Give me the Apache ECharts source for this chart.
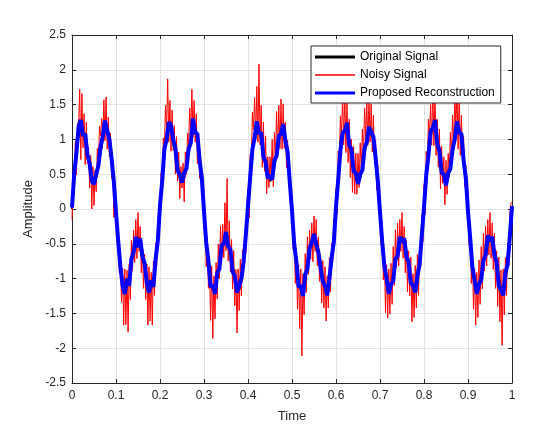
<!DOCTYPE html>
<html lang="en">
<head>
    <meta charset="utf-8">
    <title>signal reconstruction</title>
    <script src="https://cdn.jsdelivr.net/npm/echarts@6/dist/echarts.min.js"></script>
    <style>
        html, body { margin: 0; padding: 0; background: #fff; }
    </style>
</head>
<body>
    <div id="main" style="width: 544px;height:433px;"></div>
    <script>
    // sampled over t = 0 .. 1, evenly spaced
    var originalSignal = [
        0, 0.43, 0.79, 1.05, 1.16, 1.13, 0.99, 0.80, 0.60, 0.45, 0.40, 0.45, 0.60, 0.80, 0.99, 1.13, 1.16, 1.05, 0.79, 0.43,
        0, -0.43, -0.79, -1.05, -1.16, -1.13, -0.99, -0.80, -0.60, -0.45, -0.40, -0.45, -0.60, -0.80, -0.99, -1.13, -1.16, -1.05, -0.79, -0.43,
        0, 0.43, 0.79, 1.05, 1.16, 1.13, 0.99, 0.80, 0.60, 0.45, 0.40, 0.45, 0.60, 0.80, 0.99, 1.13, 1.16, 1.05, 0.79, 0.43,
        0, -0.43, -0.79, -1.05, -1.16, -1.13, -0.99, -0.80, -0.60, -0.45, -0.40, -0.45, -0.60, -0.80, -0.99, -1.13, -1.16, -1.05, -0.79, -0.43,
        0, 0.43, 0.79, 1.05, 1.16, 1.13, 0.99, 0.80, 0.60, 0.45, 0.40, 0.45, 0.60, 0.80, 0.99, 1.13, 1.16, 1.05, 0.79, 0.43,
        0, -0.43, -0.79, -1.05, -1.16, -1.13, -0.99, -0.80, -0.60, -0.45, -0.40, -0.45, -0.60, -0.80, -0.99, -1.13, -1.16, -1.05, -0.79, -0.43,
        0, 0.43, 0.79, 1.05, 1.16, 1.13, 0.99, 0.80, 0.60, 0.45, 0.40, 0.45, 0.60, 0.80, 0.99, 1.13, 1.16, 1.05, 0.79, 0.43,
        0, -0.43, -0.79, -1.05, -1.16, -1.13, -0.99, -0.80, -0.60, -0.45, -0.40, -0.45, -0.60, -0.80, -0.99, -1.13, -1.16, -1.05, -0.79, -0.43,
        0, 0.43, 0.79, 1.05, 1.16, 1.13, 0.99, 0.80, 0.60, 0.45, 0.40, 0.45, 0.60, 0.80, 0.99, 1.13, 1.16, 1.05, 0.79, 0.43,
        0, -0.43, -0.79, -1.05, -1.16, -1.13, -0.99, -0.80, -0.60, -0.45, -0.40, -0.45, -0.60, -0.80, -0.99, -1.13, -1.16, -1.05, -0.79, -0.43,
        0
    ];

    var noisySignal = [
        -0.15, 0.47, 0.33, 0.97, 0.49, 1.24, 1.20, 1.72, 0.71, 1.66, 0.88, 1.37, 0.64, 1.25, 0.65, 0.89, 0.30, 0.77, 0.00, 0.61, 0.05, 0.56, 0.25, 0.87, 0.65, 1.19, 1.05, 1.30, 1.04, 1.57, 0.98, 1.61, 0.86, 1.32, 0.75, 1.09, 0.44, 0.72, -0.12, 0.32,
        0.10, -0.47, -0.23, -0.92, -0.69, -1.34, -0.85, -1.67, -0.86, -1.66, -0.88, -1.77, -0.79, -1.30, -0.45, -0.89, -0.30, -0.77, -0.15, -0.71, -0.05, -0.61, -0.25, -0.92, -0.50, -1.14, -0.65, -1.30, -0.79, -1.67, -0.83, -1.61, -0.91, -1.67, -0.75, -1.24, -0.49, -0.82, -0.28, 0.03,
        -0.20, 0.52, 0.33, 1.02, 0.89, 1.49, 1.15, 1.87, 0.96, 1.56, 0.83, 1.42, 0.84, 1.20, 0.50, 1.04, 0.40, 0.82, 0.15, 0.61, 0.30, 0.66, 0.10, 0.82, 0.50, 1.09, 0.90, 1.45, 1.09, 1.72, 1.03, 1.56, 0.96, 1.37, 0.65, 1.04, 0.44, 0.72, 0.18, 0.42,
        -0.30, 0.03, -0.83, -0.42, -1.14, -0.84, -1.60, -0.82, -1.86, -0.96, -1.58, -0.77, -1.29, -0.50, -1.00, -0.24, -0.75, -0.22, -0.70, 0.09, -0.60, 0.44, -0.75, -0.17, -0.90, -0.44, -1.15, -0.60, -1.39, -0.87, -1.78, -0.86, -1.46, -0.72, -1.25, -0.59, -0.94, -0.32, -0.63, 0.08,
        0.30, -0.13, 0.78, 0.67, 1.39, 1.14, 1.60, 1.02, 1.76, 0.96, 2.08, 0.92, 1.49, 0.60, 1.25, 0.54, 1.05, 0.22, 0.75, 0.31, 0.75, 0.46, 1.00, 0.32, 1.10, 0.74, 1.40, 0.80, 1.49, 0.87, 1.58, 0.86, 1.51, 0.87, 1.25, 0.59, 0.99, 0.32, 0.58, -0.03,
        0.20, -0.57, -0.28, -1.07, -0.59, -1.44, -0.80, -1.72, -0.86, -2.11, -0.93, -1.52, -0.64, -1.20, -0.40, -0.94, -0.30, -0.72, -0.20, -0.76, -0.10, -0.61, -0.15, -0.82, -0.40, -1.04, -0.70, -1.35, -0.74, -1.42, -0.83, -1.61, -0.96, -1.42, -0.70, -1.19, -0.49, -0.77, -0.13, -0.42,
        0.30, -0.08, 0.83, 0.72, 1.34, 1.04, 1.65, 0.92, 1.71, 0.81, 1.53, 0.67, 1.29, 0.45, 1.00, 0.24, 0.90, 0.22, 0.80, 0.21, 0.80, 0.31, 0.95, 0.57, 1.15, 0.79, 1.45, 1.00, 1.54, 0.92, 1.63, 0.96, 1.51, 0.82, 1.35, 0.64, 0.99, 0.27, 0.63, -0.08,
        0.20, -0.52, -0.18, -1.02, -0.69, -1.49, -0.80, -1.57, -0.86, -1.51, -0.78, -1.37, -0.54, -1.10, -0.30, -0.84, -0.20, -0.82, -0.15, -0.61, -0.05, -0.71, -0.25, -0.92, -0.45, -1.19, -0.60, -1.25, -0.69, -1.62, -0.93, -1.56, -0.81, -1.42, -0.65, -1.24, -0.54, -0.82, -0.08, -0.47,
        0.35, -0.08, 0.83, 0.52, 1.29, 1.04, 1.50, 0.92, 1.76, 0.91, 1.68, 0.77, 1.29, 0.60, 1.15, 0.29, 0.90, 0.37, 0.75, 0.06, 0.70, 0.21, 0.80, 0.47, 1.10, 0.79, 1.35, 0.85, 1.64, 1.17, 1.73, 0.86, 1.66, 0.77, 1.35, 0.74, 1.04, 0.32, 0.63, -0.08,
        0.25, -0.52, -0.23, -1.07, -0.64, -1.44, -0.85, -1.67, -0.91, -1.56, -0.73, -1.37, -0.54, -1.15, -0.35, -0.89, -0.25, -0.82, -0.15, -0.66, -0.05, -0.71, -0.20, -0.87, -0.35, -1.14, -0.60, -1.40, -0.69, -1.62, -0.88, -1.96, -0.86, -1.52, -0.70, -1.24, -0.49, -0.82, -0.08, 0.08,
        0.10
    ];

    var reconstruction = [
        0.02, 0.50, 0.80, 1.18, 1.28, 1.05, 1.08, 0.78, 0.66, 0.40, 0.36, 0.50, 0.62, 0.90, 1.05, 1.27, 1.12, 1.00, 0.72, 0.40,
        -0.05, -0.46, -0.83, -1.10, -1.22, -1.00, -1.10, -0.72, -0.62, -0.40, -0.55, -0.42, -0.68, -0.78, -1.05, -1.20, -1.02, -1.12, -0.72, -0.46,
        0.05, 0.40, 0.86, 1.00, 1.25, 1.20, 1.00, 0.86, 0.55, 0.50, 0.38, 0.52, 0.58, 0.86, 0.95, 1.30, 1.10, 1.08, 0.70, 0.45,
        -0.03, -0.48, -0.74, -1.12, -1.10, -1.22, -0.92, -0.86, -0.52, -0.50, -0.33, -0.54, -0.58, -0.90, -0.96, -1.20, -1.10, -1.00, -0.76, -0.38,
        0.04, 0.46, 0.86, 1.02, 1.26, 1.08, 1.10, 0.75, 0.68, 0.44, 0.48, 0.42, 0.70, 0.76, 1.05, 1.08, 1.22, 0.98, 0.82, 0.38,
        -0.02, -0.50, -0.76, -1.12, -1.10, -1.25, -0.94, -0.86, -0.56, -0.48, -0.36, -0.50, -0.62, -0.84, -1.04, -1.10, -1.24, -1.00, -0.70, -0.48,
        0.03, 0.42, 0.84, 1.10, 1.12, 1.24, 0.92, 0.86, 0.54, 0.52, 0.36, 0.50, 0.56, 0.88, 0.96, 1.18, 1.10, 1.04, 0.74, 0.40,
        -0.04, -0.47, -0.82, -1.00, -1.22, -1.08, -1.04, -0.72, -0.68, -0.40, -0.48, -0.42, -0.68, -0.76, -1.06, -1.10, -1.20, -0.96, -0.80, -0.38,
        0.02, 0.48, 0.76, 1.12, 1.16, 1.28, 0.94, 0.84, 0.52, 0.50, 0.34, 0.52, 0.58, 0.86, 1.00, 1.26, 1.10, 1.08, 0.70, 0.45,
        -0.03, -0.42, -0.84, -1.02, -1.22, -1.08, -1.02, -0.74, -0.66, -0.38, -0.46, -0.40, -0.66, -0.76, -1.10, -1.16, -1.24, -0.92, -0.80, -0.40,
        0.04
    ];

    var seriesNames = ['Original Signal', 'Noisy Signal', 'Proposed Reconstruction'];

    // pair every sample with its time, samples are evenly spaced over [0, 1]
    function withTime(values) {
        return values.map(function (v, i) {
            return [i / (values.length - 1), v];
        });
    }

    // legend swatches: plain bars of the line's width inside a 40x12 box
    var thickBar = 'path://M0,0M0,4.5L40,4.5L40,7.5L0,7.5ZM40,12';
    var thinBar = 'path://M0,0M0,5.3L40,5.3L40,6.7L0,6.7ZM40,12';

    var axisColor = '#262626';
    var font = 'Liberation Sans, Arial, sans-serif';

    var myChart = echarts.init(document.getElementById('main'));
    var option = {
        animation: false,
        backgroundColor: '#fff',
        textStyle: { fontFamily: font },
        grid: { left: 72, right: 32, top: 35, bottom: 50 },
        legend: {
            orient: 'vertical',
            left: 311,
            top: 46,
            padding: [5, 6, 4, 4],
            itemGap: 6,
            itemWidth: 40,
            itemHeight: 12,
            backgroundColor: '#fff',
            borderColor: axisColor,
            borderWidth: 1,
            borderRadius: 0,
            itemStyle: { borderWidth: 0 },
            textStyle: { fontFamily: font, fontSize: 12, color: '#000' },
            data: [
                { name: seriesNames[0], icon: thickBar },
                { name: seriesNames[1], icon: thinBar },
                { name: seriesNames[2], icon: thickBar }
            ]
        },
        xAxis: [{
            type: 'value',
            min: 0,
            max: 1,
            interval: 0.1,
            position: 'bottom',
            name: 'Time',
            nameLocation: 'middle',
            nameGap: 27,
            nameTextStyle: { fontFamily: font, fontSize: 13, color: axisColor },
            axisLine: { show: true, onZero: false, lineStyle: { color: axisColor, width: 1 } },
            axisTick: { show: true, inside: true, length: 4, lineStyle: { color: axisColor } },
            axisLabel: { color: axisColor, fontSize: 12, fontFamily: font, margin: 7 },
            splitLine: { show: true, lineStyle: { color: '#e3e3e3', width: 1 } }
        }, {
            type: 'value',
            min: 0,
            max: 1,
            interval: 0.1,
            position: 'top',
            axisLine: { show: true, onZero: false, lineStyle: { color: axisColor, width: 1 } },
            axisTick: { show: true, inside: true, length: 4, lineStyle: { color: axisColor } },
            axisLabel: { show: false },
            splitLine: { show: false }
        }],
        yAxis: [{
            type: 'value',
            min: -2.5,
            max: 2.5,
            interval: 0.5,
            position: 'left',
            name: 'Amplitude',
            nameLocation: 'middle',
            nameGap: 31,
            nameTextStyle: { fontFamily: font, fontSize: 13, color: axisColor },
            axisLine: { show: true, onZero: false, lineStyle: { color: axisColor, width: 1 } },
            axisTick: { show: true, inside: true, length: 4, lineStyle: { color: axisColor } },
            axisLabel: { color: axisColor, fontSize: 12, fontFamily: font, margin: 6 },
            splitLine: { show: true, lineStyle: { color: '#e3e3e3', width: 1 } }
        }, {
            type: 'value',
            min: -2.5,
            max: 2.5,
            interval: 0.5,
            position: 'right',
            axisLine: { show: true, onZero: false, lineStyle: { color: axisColor, width: 1 } },
            axisTick: { show: true, inside: true, length: 4, lineStyle: { color: axisColor } },
            axisLabel: { show: false },
            splitLine: { show: false }
        }],
        series: [
            {
                name: seriesNames[0],
                type: 'line',
                symbol: 'none',
                data: withTime(originalSignal),
                itemStyle: { color: '#000' },
                lineStyle: { color: '#000', width: 2 }
            },
            {
                name: seriesNames[1],
                type: 'line',
                symbol: 'none',
                data: withTime(noisySignal),
                itemStyle: { color: '#ff0000' },
                lineStyle: { color: '#ff0000', width: 1 }
            },
            {
                name: seriesNames[2],
                type: 'line',
                symbol: 'none',
                data: withTime(reconstruction),
                itemStyle: { color: '#0000ff' },
                lineStyle: { color: '#0000ff', width: 4 }
            }
        ]
    };
    myChart.setOption(option);
    </script>
</body>
</html>
